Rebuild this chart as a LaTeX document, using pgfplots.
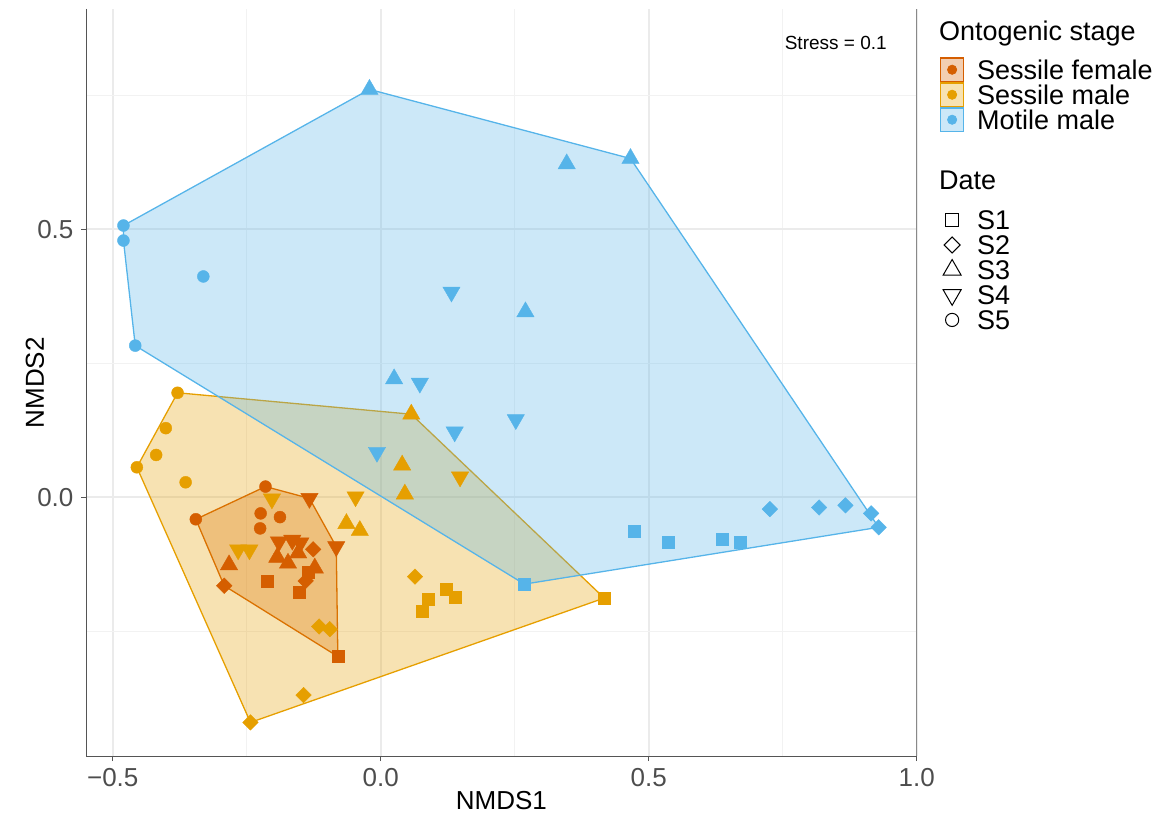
\documentclass[border=0pt]{standalone}
\usepackage{fontspec}
\setmainfont{Liberation Sans}
\usepackage{pgfplots}
\pgfplotsset{compat=1.18}

\definecolor{sf}{HTML}{D55E00}% sessile female
\definecolor{sm}{HTML}{E69F00}% sessile male
\definecolor{mm}{HTML}{56B4E9}% motile male
\definecolor{axiscol}{HTML}{555555}
\definecolor{tickcol}{HTML}{4D4D4D}

% fixed-height strut for legend rows: height above baseline, depth below
\newcommand{\rs}[2]{\rule[-#2]{0pt}{\dimexpr#1+#2\relax}}

\pgfplotsset{
  circ/.style={only marks, forget plot, mark=*, mark size=3pt, mark options={line width=0.2pt}},
  sqr/.style={only marks, forget plot, mark=square*, mark size=3pt, mark options={line width=0.2pt}},
  dia/.style={only marks, forget plot, mark=square*, mark size=2.75pt, mark options={rotate=45, line width=0.2pt}},
  tup/.style={only marks, forget plot, mark=triangle*, mark size=5pt, mark options={line width=0.2pt}},
  tdn/.style={only marks, forget plot, mark=triangle*, mark size=5pt, mark options={rotate=180, line width=0.2pt}},
  hull/.style={forget plot, mark=none, line width=0.65pt, fill opacity=0.3, draw opacity=1},
}

\begin{document}
\begin{tikzpicture}
\useasboundingbox (-43.05pt,-29.8pt) rectangle (537.95pt,378.2pt);
\begin{axis}[
  at={(0pt,0pt)}, anchor=south west,
  scale only axis, width=415.3pt, height=373.7pt,
  xmin=-0.5497, xmax=1.0, ymin=-0.4834, ymax=0.9110,
  xtick={-0.5,0,0.5,1}, xticklabels={−0.5,0.0,0.5,1.0},
  ytick={0,0.5}, yticklabels={0.0,0.5},
  minor xtick={-0.25,0.25,0.75}, minor ytick={-0.25,0.25,0.75},
  xmajorgrids, ymajorgrids, xminorgrids, yminorgrids,
  major grid style={color=black!8, line width=0.9pt},
  minor grid style={color=black!5, line width=0.5pt},
  axis line style={draw=none},
  xtick pos=bottom, ytick pos=left, tick align=outside,
  major tick length=2.4pt, minor tick length=0pt,
  tick style={color=axiscol, line width=0.55pt},
  ticklabel style={font=\fontsize{13}{15}\selectfont, text=tickcol},
  xticklabel style={yshift=-0.2pt},
  yticklabel style={xshift=-0.4pt},
  xlabel={NMDS1}, ylabel={NMDS2},
  every axis x label/.style={at={(axis description cs:0.5,-0.0597)}, anchor=center, font=\fontsize{13}{15}\selectfont},
  every axis y label/.style={at={(axis description cs:-0.0615,0.5)}, anchor=center, rotate=90, font=\fontsize{13}{15}\selectfont},
  legend cell align=left,
  legend style={
    at={(axis description cs:1.0282,0.9879)}, anchor=north west,
    draw=none, fill=none, inner sep=0pt, outer sep=0pt,
    row sep=0pt, column sep=0pt,
    font=\fontsize{13.5}{16}\selectfont,
    nodes={inner sep=0pt, outer sep=0pt},
    /tikz/every odd column/.style={column sep=0pt},
    /tikz/every even column/.style={column sep=0pt},
  },
]

% convex hulls of each ontogenic stage
\addplot[hull, draw=sf, fill=sf] coordinates {
  (-0.215,0.020) (-0.133,-0.002) (-0.083,-0.092) (-0.080,-0.297)
  (-0.292,-0.165) (-0.345,-0.041) (-0.215,0.020)};
\addplot[hull, draw=sm, fill=sm] coordinates {
  (-0.379,0.195) (0.057,0.155) (0.417,-0.188) (-0.243,-0.420)
  (-0.455,0.056) (-0.379,0.195)};
\addplot[hull, draw=mm, fill=mm] coordinates {
  (-0.480,0.507) (-0.021,0.761) (0.466,0.632) (0.929,-0.056)
  (0.268,-0.162) (-0.458,0.283) (-0.480,0.479) (-0.480,0.507)};

% motile males
\addplot[circ, color=mm] coordinates {(-0.480,0.507) (-0.480,0.479) (-0.331,0.412) (-0.458,0.283)};
\addplot[tup, color=mm] coordinates {(-0.021,0.761) (0.347,0.622) (0.466,0.632) (0.270,0.346) (0.025,0.221)};
\addplot[tdn, color=mm] coordinates {(0.132,0.383) (0.073,0.213) (0.138,0.122) (-0.007,0.084) (0.252,0.145)};
\addplot[sqr, color=mm] coordinates {(0.472,-0.064) (0.537,-0.084) (0.638,-0.079) (0.671,-0.083) (0.268,-0.162)};
\addplot[dia, color=mm] coordinates {(0.726,-0.022) (0.818,-0.019) (0.867,-0.015) (0.915,-0.030) (0.929,-0.056)};

% sessile males
\addplot[circ, color=sm] coordinates {(-0.379,0.195) (-0.401,0.129) (-0.419,0.079) (-0.455,0.056) (-0.364,0.028)};
\addplot[tup, color=sm] coordinates {(0.057,0.155) (0.040,0.060) (0.045,0.006) (-0.064,-0.049) (-0.039,-0.062)};
\addplot[tdn, color=sm] coordinates {(0.148,0.038) (-0.047,0.001) (-0.203,-0.003) (-0.266,-0.098) (-0.245,-0.098)};
\addplot[dia, color=sm] coordinates {(0.064,-0.148) (-0.115,-0.241) (-0.095,-0.246) (-0.144,-0.369) (-0.243,-0.420)};
\addplot[sqr, color=sm] coordinates {(0.123,-0.172) (0.139,-0.187) (0.088,-0.190) (0.078,-0.213) (0.417,-0.188)};

% sessile females
\addplot[circ, color=sf] coordinates {(-0.215,0.020) (-0.345,-0.041) (-0.224,-0.030) (-0.188,-0.037) (-0.225,-0.058)};
\addplot[tdn, color=sf] coordinates {(-0.133,-0.002) (-0.083,-0.092) (-0.190,-0.083) (-0.165,-0.080) (-0.150,-0.085)};
\addplot[tup, color=sf] coordinates {(-0.283,-0.126) (-0.193,-0.112) (-0.154,-0.104) (-0.173,-0.123) (-0.123,-0.132)};
\addplot[sqr, color=sf] coordinates {(-0.211,-0.156) (-0.152,-0.177) (-0.080,-0.297) (-0.135,-0.140)};
\addplot[dia, color=sf] coordinates {(-0.292,-0.165) (-0.126,-0.097) (-0.140,-0.156)};

% panel lines: left, bottom and right
\draw[axiscol, line width=0.55pt] (rel axis cs:0,1) -- (rel axis cs:0,0) -- (rel axis cs:1,0) -- (rel axis cs:1,1);

\node[font=\fontsize{9.5}{11}\selectfont, anchor=center] at (axis cs:0.849,0.848) {Stress = 0.1};

% legend: stage block, then date block
\addlegendimage{empty legend}
\addlegendentry{\hspace*{-12.5pt}\rs{11pt}{2pt}Ontogenic stage}
\addlegendimage{empty legend}
\addlegendentry{\rs{5.6pt}{0pt}}
\addlegendimage{legend image code/.code={\draw[draw=sf, fill=sf, fill opacity=0.3, line width=0.6pt] (0.3pt,-5.9pt) rectangle (11.7pt,5.9pt); \fill[sf] (6pt,0pt) circle (2.3pt);}}
\addlegendentry{\hspace*{6.5pt}\rs{11pt}{2pt}Sessile female}
\addlegendimage{legend image code/.code={\draw[draw=sm, fill=sm, fill opacity=0.3, line width=0.6pt] (0.3pt,-5.9pt) rectangle (11.7pt,5.9pt); \fill[sm] (6pt,0pt) circle (2.3pt);}}
\addlegendentry{\hspace*{6.5pt}\rs{11pt}{2pt}Sessile male}
\addlegendimage{legend image code/.code={\draw[draw=mm, fill=mm, fill opacity=0.3, line width=0.6pt] (0.3pt,-5.9pt) rectangle (11.7pt,5.9pt); \fill[mm] (6pt,0pt) circle (2.3pt);}}
\addlegendentry{\hspace*{6.5pt}\rs{11pt}{2pt}Motile male}
\addlegendimage{empty legend}
\addlegendentry{\hspace*{-12.5pt}\rs{28.6pt}{2pt}Date}
\addlegendimage{empty legend}
\addlegendentry{\rs{6pt}{0pt}}
\addlegendimage{legend image code/.code={\draw[black, line width=0.5pt] (2.9pt,-3.1pt) rectangle (9.1pt,3.1pt);}}
\addlegendentry{\hspace*{6.5pt}\rs{11pt}{2pt}S1}
\addlegendimage{legend image code/.code={\draw[black, line width=0.5pt] (6pt,4pt) -- (10pt,0pt) -- (6pt,-4pt) -- (2pt,0pt) -- cycle;}}
\addlegendentry{\hspace*{6.5pt}\rs{11pt}{2pt}S2}
\addlegendimage{legend image code/.code={\draw[black, line width=0.5pt] (6pt,5.2pt) -- (10.5pt,-2.6pt) -- (1.5pt,-2.6pt) -- cycle;}}
\addlegendentry{\hspace*{6.5pt}\rs{11pt}{2pt}S3}
\addlegendimage{legend image code/.code={\draw[black, line width=0.5pt] (6pt,-5.2pt) -- (10.5pt,2.6pt) -- (1.5pt,2.6pt) -- cycle;}}
\addlegendentry{\hspace*{6.5pt}\rs{11pt}{2pt}S4}
\addlegendimage{legend image code/.code={\draw[black, line width=0.5pt] (6pt,0pt) circle (3.3pt);}}
\addlegendentry{\hspace*{6.5pt}\rs{11pt}{2pt}S5}
\end{axis}
\end{tikzpicture}
\end{document}
